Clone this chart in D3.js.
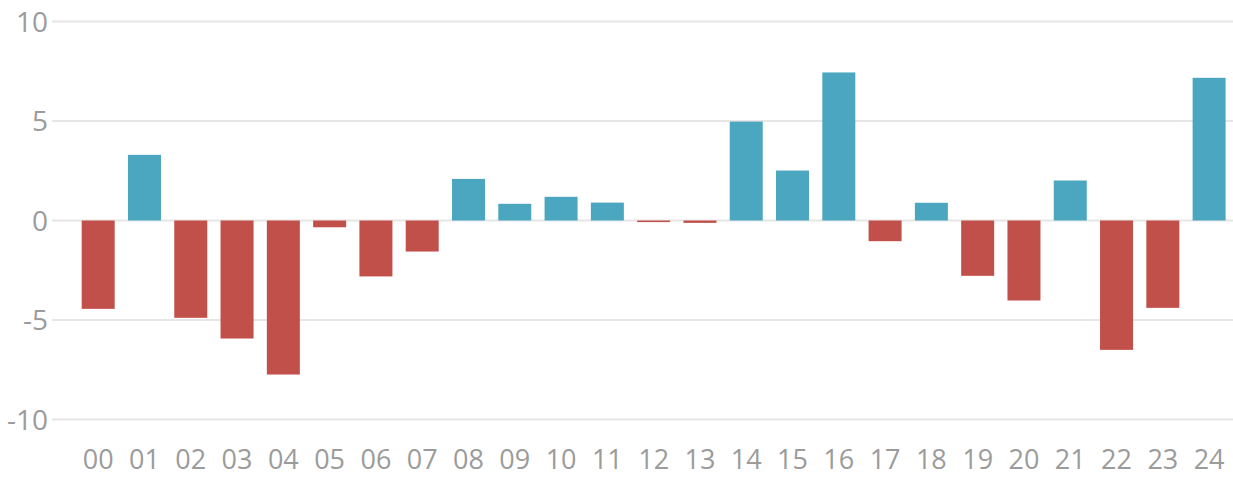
<!DOCTYPE html>
<html>
<head>
<meta charset="utf-8">
<script src="https://cdn.jsdelivr.net/npm/d3@7/dist/d3.min.js"></script>
<style>
  html, body { margin: 0; padding: 0; background: #fff; }
  svg { display: block; }
</style>
</head>
<body>
<svg id="chart" width="1233" height="477"></svg>
<script>
const categories = ["00","01","02","03","04","05","06","07","08","09","10","11","12","13","14","15","16","17","18","19","20","21","22","23","24"];
const values = [-4.44, 3.30, -4.89, -5.93, -7.74, -0.34, -2.81, -1.56, 2.09, 0.84, 1.19, 0.90, -0.08, -0.12, 4.97, 2.51, 7.44, -1.04, 0.89, -2.78, -4.02, 2.01, -6.50, -4.39, 7.17];
const yTicks = [-10, -5, 0, 5, 10];

const posColor = "#4ba7bf";
const negColor = "#c1504a";

const svg = d3.select("#chart");
const W = 1233, H = 477;

const x = d3.scaleBand()
  .domain(categories)
  .range([68.4, 1238.9])
  .paddingInner(0.287)
  .paddingOuter(0.287);

const y = d3.scaleLinear()
  .domain([-10, 10])
  .range([419.5, 21.5]);

// gridlines
svg.append("g")
  .selectAll("line")
  .data(yTicks)
  .join("line")
  .attr("x1", 52)
  .attr("x2", W)
  .attr("y1", d => y(d))
  .attr("y2", d => y(d))
  .attr("stroke", "#e6e6e6")
  .attr("stroke-width", 2);

// y labels
svg.append("g")
  .selectAll("text")
  .data(yTicks)
  .join("text")
  .attr("x", 48)
  .attr("y", d => y(d))
  .attr("dy", "0.36em")
  .attr("text-anchor", "end")
  .attr("font-family", "'Open Sans', sans-serif")
  .attr("font-size", 28)
  .attr("fill", "#9b9b9b")
  .text(d => d);

// bars
svg.append("g")
  .selectAll("rect")
  .data(values)
  .join("rect")
  .attr("x", (d, i) => x(categories[i]))
  .attr("width", x.bandwidth())
  .attr("y", d => y(Math.max(0, d)))
  .attr("height", d => Math.abs(y(d) - y(0)))
  .attr("fill", d => d >= 0 ? posColor : negColor);

// x labels
svg.append("g")
  .selectAll("text")
  .data(categories)
  .join("text")
  .attr("x", d => x(d) + x.bandwidth() / 2)
  .attr("y", 469)
  .attr("text-anchor", "middle")
  .attr("font-family", "'Open Sans', sans-serif")
  .attr("font-size", 27)
  .attr("fill", "#9b9b9b")
  .text(d => d);
</script>
</body>
</html>
